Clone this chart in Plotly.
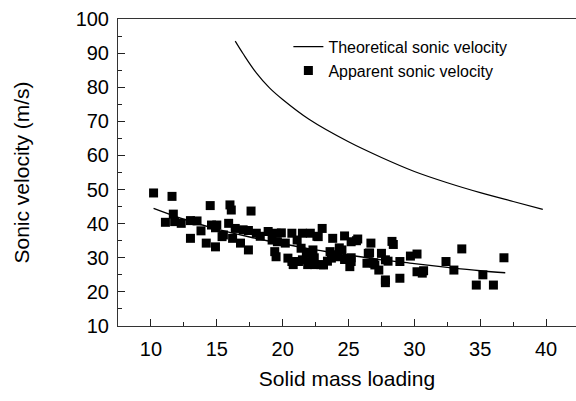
import plotly.graph_objects as go

# Theoretical sonic velocity curve
theo_x = [16.4, 17.0, 18.0, 19.0, 20.0, 22.0, 25.0, 27.5, 30.0, 32.5, 35.0, 37.5, 39.75]
theo_y = [93.5, 89.8, 84.2, 79.8, 76.4, 70.6, 64.0, 59.4, 55.3, 52.0, 49.1, 46.5, 44.2]

# Fitted curve through apparent data
fit_x = [10.2, 12.5, 15.0, 17.5, 20.0, 22.5, 25.0, 27.5, 30.0, 32.5, 35.0, 36.9]
fit_y = [44.5, 41.3, 38.4, 36.1, 34.1, 32.3, 30.8, 29.4, 28.3, 27.2, 26.2, 25.6]

# Apparent sonic velocity measurements
app_x = [10.2, 11.6, 11.7, 11.1, 11.8, 12.3, 13.0, 13.5, 13.0, 13.8, 14.2, 14.5,
         14.6, 14.9, 14.9, 15.5, 16.0, 16.1, 17.6, 15.0, 15.9, 16.4, 17.0, 17.4,
         18.0, 18.3, 18.9, 19.5, 19.9, 20.7, 21.5, 15.4, 16.2, 16.8, 17.4, 19.2,
         19.6, 19.4, 19.5, 20.2, 20.4, 20.7, 20.8, 21.1, 21.4, 21.2, 21.5, 21.8,
         22.1, 22.3, 21.9, 22.4, 22.4, 22.9, 22.6, 23.0, 22.1, 22.7, 23.8, 24.7,
         25.6, 25.2, 26.7, 23.1, 23.6, 23.7, 24.2, 24.5, 23.4, 24.0, 24.3, 24.7,
         25.2, 25.2, 25.1, 26.5, 26.4, 26.9, 27.0, 27.3, 27.5, 27.8, 27.8, 27.8,
         28.0, 28.3, 28.4, 28.9, 28.9, 29.7, 30.2, 30.2, 30.6, 30.7, 32.4, 33.0,
         33.6, 34.7, 35.2, 36.0, 36.8, 25.7, 26.6]
app_y = [49.0, 48.0, 42.8, 40.4, 40.6, 40.1, 40.9, 40.8, 35.7, 37.9, 34.3, 45.3,
         39.6, 38.8, 33.2, 36.7, 45.5, 44.0, 43.7, 39.6, 40.1, 38.6, 38.2, 38.0,
         37.2, 36.3, 37.7, 37.2, 37.3, 37.2, 37.2, 36.2, 35.7, 34.3, 32.3, 35.2,
         34.7, 31.8, 30.3, 34.3, 29.9, 28.9, 28.0, 35.2, 32.8, 28.9, 29.4, 31.3,
         28.9, 32.3, 28.0, 30.0, 28.0, 28.0, 36.3, 38.6, 37.2, 36.2, 35.7, 36.4,
         35.0, 34.7, 34.3, 27.9, 31.8, 29.9, 30.3, 32.3, 29.0, 30.9, 32.9, 29.5,
         28.9, 30.0, 27.4, 31.3, 28.4, 28.5, 27.9, 26.4, 31.3, 29.4, 23.5, 22.7,
         29.0, 34.8, 33.9, 28.9, 24.0, 30.5, 31.1, 25.9, 25.5, 26.2, 28.9, 26.4,
         32.6, 22.0, 25.0, 22.0, 30.0, 35.5, 31.4]

FONT = "Liberation Sans, Arial, sans-serif"

fig = go.Figure()
fig.add_trace(go.Scatter(x=theo_x, y=theo_y, mode="lines", line=dict(color="black", width=1.2, shape="spline"),
                         name="Theoretical sonic velocity"))
fig.add_trace(go.Scatter(x=app_x, y=app_y, mode="markers",
                         marker=dict(symbol="square", size=9, color="black"),
                         name="Apparent sonic velocity"))
fig.add_trace(go.Scatter(x=fit_x, y=fit_y, mode="lines", line=dict(color="black", width=1.4, shape="spline"),
                         showlegend=False))

fig.update_layout(
    width=576, height=401,
    margin=dict(l=118, r=0, t=19, b=75),
    paper_bgcolor="white", plot_bgcolor="white",
    font=dict(family=FONT, size=20, color="black"),
    legend=dict(x=0.372, y=0.965, xanchor="left", yanchor="top", bgcolor="rgba(0,0,0,0)",
                font=dict(size=16, family=FONT), tracegroupgap=0),
    showlegend=True,
)
fig.update_xaxes(range=[7.5, 42.27], tick0=10, dtick=5, ticks="inside", ticklen=7, tickwidth=1,
                 tickcolor="#222", showline=True, linecolor="#333", linewidth=1, mirror=True,
                 showgrid=False, zeroline=False, ticklabelstandoff=5,
                 minor=dict(tick0=7.5, dtick=2.5, ticks="inside", ticklen=4, tickcolor="#222"),
                 title=dict(text="Solid mass loading", font=dict(size=21), standoff=12),
                 tickfont=dict(size=20))
fig.update_yaxes(range=[10, 100], dtick=10, ticks="inside", ticklen=7, tickwidth=1,
                 tickcolor="#222", showline=True, linecolor="#333", linewidth=1, mirror=False,
                 showgrid=False, zeroline=False, ticklabelstandoff=4,
                 minor=dict(dtick=5, ticks="inside", ticklen=4, tickcolor="#222"),
                 title=dict(text="Sonic velocity (m/s)", font=dict(size=21), standoff=40),
                 tickfont=dict(size=20))

fig.write_html("out.html")
